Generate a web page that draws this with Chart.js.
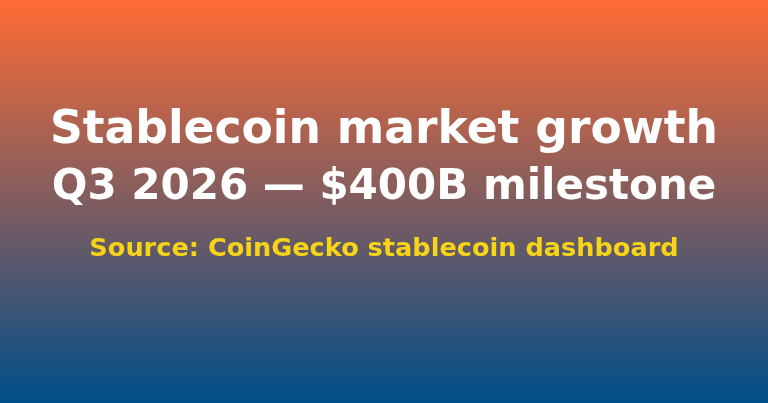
<!DOCTYPE html>
<html>
<head>
<meta charset="utf-8">
<script src="https://cdn.jsdelivr.net/npm/chart.js@4.4.1/dist/chart.umd.min.js"></script>
<style>
  html, body { margin: 0; padding: 0; }
  #wrap { width: 768px; height: 403px; position: relative; }
</style>
</head>
<body>
<div id="wrap"><canvas id="myChart"></canvas></div>
<script>
// the picture is a title card: no plotted series, only the text
const categories = [];
const values = [];
const titleLine = 'Stablecoin market growth';
const subtitleLine = 'Q3 2026 \u2014 $400B milestone';
const sourceLine = 'Source: CoinGecko stablecoin dashboard';

// paints the orange -> blue gradient behind everything
const gradientBg = {
    id: 'gradientBg',
    beforeDraw: function(chart) {
        let ctx = chart.ctx;
        let g = ctx.createLinearGradient(0, 0, 0, chart.height);
        g.addColorStop(0, '#ff6b35');
        g.addColorStop(1, '#004e89');
        ctx.save();
        ctx.fillStyle = g;
        ctx.fillRect(0, 0, chart.width, chart.height);
        ctx.restore();
    }
};

// yellow source line under the subtitle
const sourceText = {
    id: 'sourceText',
    afterDraw: function(chart) {
        let ctx = chart.ctx;
        ctx.save();
        ctx.font = 'bold 25.6px "DejaVu Sans"';
        ctx.fillStyle = '#f7d417';
        ctx.textAlign = 'center';
        ctx.textBaseline = 'alphabetic';
        ctx.fillText(sourceLine, chart.width / 2, 256);
        ctx.restore();
    }
};

var ctx = document.getElementById('myChart').getContext('2d');
var myChart = new Chart(ctx, {
    type: 'bar',
    data: {
        labels: categories,
        datasets: [{ data: values }]
    },
    options: {
        responsive: true,
        maintainAspectRatio: false,
        animation: false,
        layout: { padding: { top: 106.6 } },
        scales: {
            x: { display: false },
            y: { display: false }
        },
        plugins: {
            legend: { display: false },
            tooltip: { enabled: false },
            title: {
                display: true,
                text: titleLine,
                color: '#ffffff',
                font: { family: 'DejaVu Sans', size: 45.6, weight: 'bold', lineHeight: 50 / 45.6 },
                padding: { top: 0, bottom: 8.8 }
            },
            subtitle: {
                display: true,
                text: subtitleLine,
                color: '#ffffff',
                font: { family: 'DejaVu Sans', size: 42, weight: 'bold', lineHeight: 46 / 42 },
                padding: { top: 0, bottom: 0 }
            }
        }
    },
    plugins: [gradientBg, sourceText]
});
</script>
</body>
</html>
